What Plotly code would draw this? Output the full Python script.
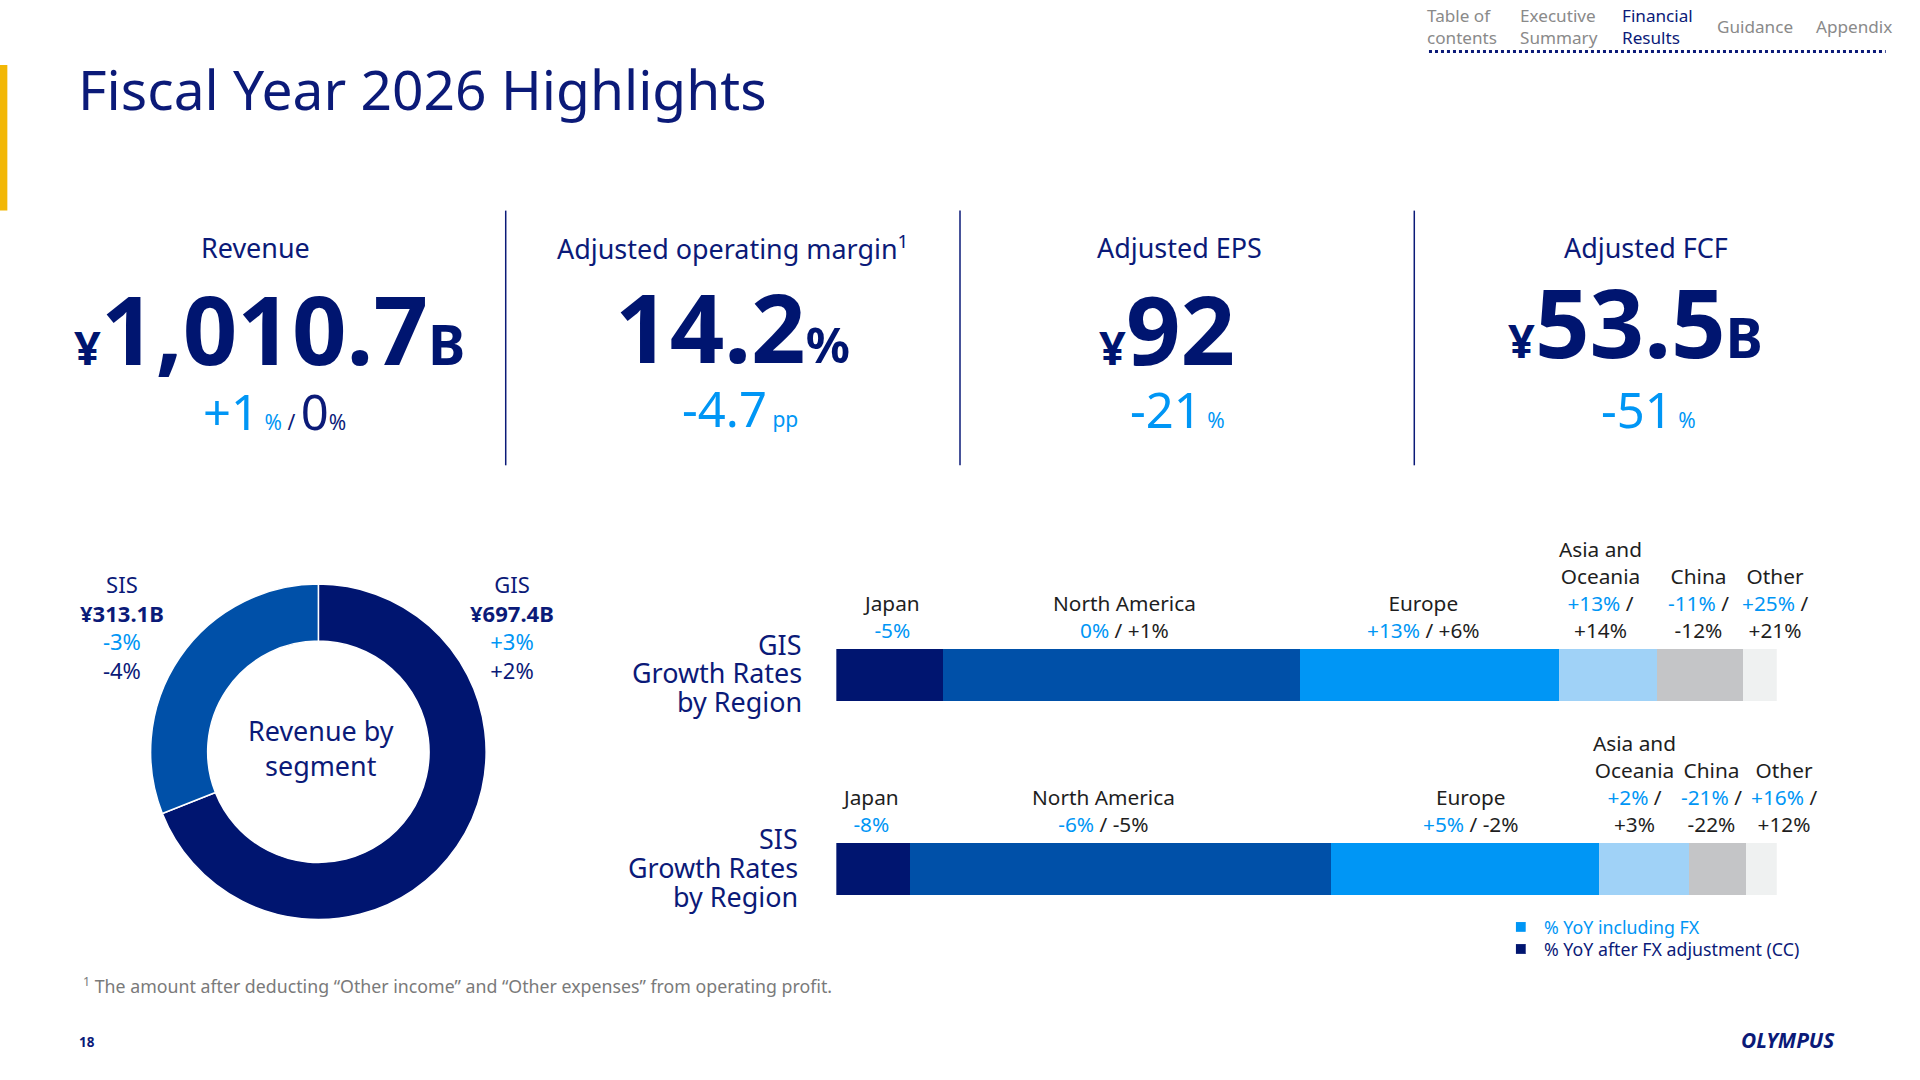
import plotly.graph_objects as go

# ---------------- data ----------------
segments = ["GIS", "SIS"]
segment_revenue = [697.4, 313.1]
segment_rev_text = ["¥697.4B", "¥313.1B"]
segment_yoy_fx = ["+3%", "-3%"]
segment_yoy_cc = ["+2%", "-4%"]

regions = ["Japan", "North America", "Europe", "Asia and Oceania", "China", "Other"]
gis_share = [11.3, 38.0, 27.5, 10.5, 9.1, 3.6]
sis_share = [7.8, 44.8, 28.5, 9.6, 6.0, 3.3]
gis_fx = ["-5%", "0%", "+13%", "+13%", "-11%", "+25%"]
gis_cc = ["", "+1%", "+6%", "+14%", "-12%", "+21%"]
sis_fx = ["-8%", "-6%", "+5%", "+2%", "-21%", "+16%"]
sis_cc = ["", "-5%", "-2%", "+3%", "-22%", "+12%"]

kpi_titles = ["Revenue", "Adjusted operating margin<sup>1</sup>", "Adjusted EPS", "Adjusted FCF"]

# ---------------- styles ----------------
NAVY = "#0B1A78"
DARK = "#001570"
MID = "#0050A8"
BRIGHT = "#0096F5"
LIGHT = "#A0D2F7"
GRAY = "#C4C5C7"
PALE = "#EFF1F1"
seg_colors = [DARK, MID, BRIGHT, LIGHT, GRAY, PALE]
FONT = "Noto Sans"
W, H = 1920, 1080
S = W / 1568


def px(x):
    return x / 1568


def py(y):
    return 1 - y / 882


def fs(s):
    return s * S


def blue(t):
    return f"<span style='color:{BRIGHT}'>{t}</span>"


fig = go.Figure()

# donut
fig.add_trace(go.Pie(
    labels=segments, values=segment_revenue, hole=0.66, sort=False,
    direction="clockwise", rotation=0,
    marker=dict(colors=[DARK, MID], line=dict(color="white", width=1.5)),
    textinfo="none", hoverinfo="label+value", showlegend=False,
    domain=dict(x=[px(123), px(397)], y=[py(751), py(477)]),
))

# stacked bars
for i, r in enumerate(regions):
    fig.add_trace(go.Bar(
        y=["SIS", "GIS"], x=[sis_share[i], gis_share[i]], orientation="h",
        marker=dict(color=seg_colors[i], line=dict(width=0)), width=0.265,
        name=r, showlegend=False, xaxis="x", yaxis="y",
    ))

fig.update_layout(
    width=W, height=H, margin=dict(l=0, r=0, t=0, b=0),
    paper_bgcolor="white", plot_bgcolor="white", barmode="stack",
    font=dict(family=FONT, color=NAVY),
    xaxis=dict(domain=[px(683), px(1451)], range=[0, 100], visible=False, fixedrange=True),
    yaxis=dict(domain=[py(788.75), py(472)], range=[-0.5, 1.5], visible=False,
               categoryorder="array", categoryarray=["SIS", "GIS"]),
)

ann = []


def A(x, y, text, size, color=NAVY, xa="center", ya="middle", **kw):
    ann.append(dict(x=px(x), y=py(y), xref="paper", yref="paper", text=text,
                    showarrow=False, xanchor=xa, yanchor=ya,
                    font=dict(family=FONT, size=fs(size), color=color), **kw))


# title + accent
A(62, 72, "Fiscal Year 2026 Highlights", 45, NAVY, xa="left")
shapes = [
    dict(type="rect", xref="paper", yref="paper", x0=0, x1=px(6), y0=py(172), y1=py(53),
         fillcolor="#F2B705", line=dict(width=0)),
    dict(type="line", xref="paper", yref="paper", x0=px(1167), x1=px(1540), y0=py(42), y1=py(42),
         line=dict(color=NAVY, width=3, dash="dot")),
]
for xv in [413, 784, 1155]:
    shapes.append(dict(type="line", xref="paper", yref="paper", x0=px(xv), x1=px(xv),
                       y0=py(380), y1=py(172), line=dict(color=NAVY, width=1.5)))

# nav
nav = [("Table of<br>contents", 1194, "#8A8A8A"), ("Executive<br>Summary", 1273, "#8A8A8A"),
       ("Financial<br>Results", 1354, NAVY), ("Guidance", 1433, "#8A8A8A"), ("Appendix", 1514, "#8A8A8A")]
for t, x, c in nav:
    A(x, 22, t, 14, c, align="left")

# KPIs
for t, x in zip(kpi_titles, [209, 598, 963, 1344]):
    A(x, 202, t, 22)

big = 78
A(220, 268, f"<b><span style='font-size:{fs(38):.0f}px'>¥</span>1,010.7<span style='font-size:{fs(46):.0f}px'>B</span></b>", big, DARK)
A(598, 266, f"<b>14.2<span style='font-size:{fs(40):.0f}px'>%</span></b>", big, DARK)
A(953, 268, f"<b><span style='font-size:{fs(38):.0f}px'>¥</span>92</b>", big, DARK)
A(1336, 262, f"<b><span style='font-size:{fs(38):.0f}px'>¥</span>53.5<span style='font-size:{fs(46):.0f}px'>B</span></b>", big, DARK)

sm = lambda t, c=BRIGHT: f"<span style='font-size:{fs(17):.0f}px;color:{c}'>{t}</span>"
A(224, 336, f"{blue('+1')}{sm(' %')}{sm(' / ', NAVY)}0{sm('%', NAVY)}", 40, NAVY)
A(604, 333, f"-4.7{sm(' pp')}", 40, BRIGHT)
A(962, 334, f"-21{sm(' %')}", 40, BRIGHT)
A(1346, 334, f"-51{sm(' %')}", 40, BRIGHT)

# donut labels
for seg, x in zip(segments, [418, 100]):
    i = segments.index(seg)
    A(x, 512, f"{seg}<br><b>{segment_rev_text[i]}</b><br>{blue(segment_yoy_fx[i])}<br>{segment_yoy_cc[i]}",
      18, NAVY)
A(262, 611, "Revenue by<br>segment", 22, NAVY)

# bar side labels (line by line for tighter spacing)
for lines, x, y0 in [(["GIS", "Growth Rates", "by Region"], 657, 526),
                     (["SIS", "Growth Rates", "by Region"], 653, 685)]:
    for k, l in enumerate(lines):
        A(x, y0 + k * 23.5, l, 22, NAVY, xa="right")

# region labels
names = ["Japan", "North America", "Europe", "Asia and<br>Oceania", "China", "Other"]
gis_shift = [2, 3, -5, -6, -1, 12]
sis_shift = [-2, -14, 5, -8, -5, 19]
for row, share, fx, cc, shifts, ybot in [
        ("GIS", gis_share, gis_fx, gis_cc, gis_shift, 1),
        ("SIS", sis_share, sis_fx, sis_cc, sis_shift, 0)]:
    cum = 0
    for i, n in enumerate(names):
        c = cum + share[i] / 2
        cum += share[i]
        if i in (0,):
            val = blue(fx[i])
        elif i in (1, 2):
            val = f"{blue(fx[i])} / {cc[i]}"
        else:
            val = f"{blue(fx[i])} /<br>{cc[i]}"
        ann.append(dict(x=c, y=ybot + 0.1325, xref="x", yref="y", text=f"{n}<br>{val}",
                        showarrow=False, xanchor="center", yanchor="bottom", yshift=3,
                        xshift=shifts[i] * S,
                        font=dict(family=FONT, size=fs(17), color="#1E1E1E")))

# legend
for y, c, t in [(757, BRIGHT, "% YoY including FX"), (775, DARK, "% YoY after FX adjustment (CC)")]:
    shapes.append(dict(type="rect", xref="paper", yref="paper", x0=px(1238), x1=px(1246),
                       y0=py(y + 4), y1=py(y - 4), fillcolor=c, line=dict(width=0)))
    A(1259, y, t, 14.5, BRIGHT if c == BRIGHT else NAVY, xa="left")

A(66, 805, "<sup>1</sup> The amount after deducting “Other income” and “Other expenses” from operating profit.",
  14.5, "#7A7A7A", xa="left")
A(63, 851, "<b>18</b>", 11, NAVY, xa="left")
A(1460, 849, "<b><i>OLYMPUS</i></b>", 17, NAVY)

fig.update_layout(annotations=ann, shapes=shapes)
fig.write_html("out.html", config={"displayModeBar": False},
               post_script="document.body.style.margin='0';document.body.style.overflow='hidden';")
